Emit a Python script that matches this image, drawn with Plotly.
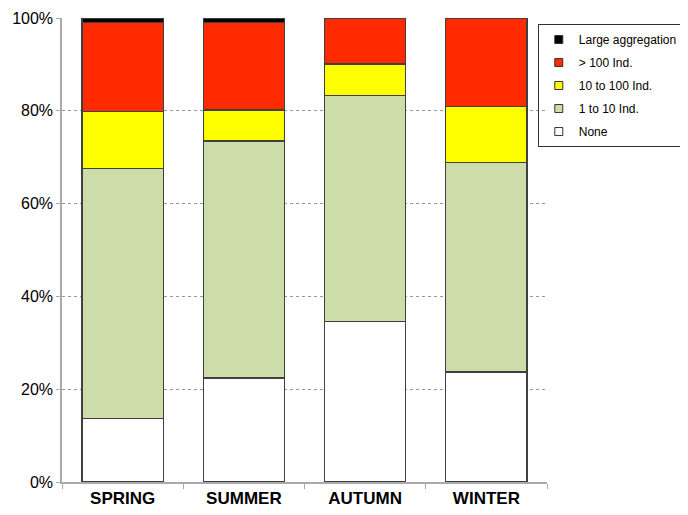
import plotly.graph_objects as go

seasons = ["SPRING", "SUMMER", "AUTUMN", "WINTER"]
none_vals = [13.7, 22.4, 34.6, 23.7]
ind_1_10 = [53.9, 51.1, 48.7, 45.2]
ind_10_100 = [12.3, 6.7, 6.8, 12.0]
ind_gt_100 = [19.2, 18.9, 9.9, 19.1]
large_agg = [0.9, 0.9, 0.0, 0.0]

series = [
    ("None", none_vals, "#FFFFFF"),
    ("1 to 10 Ind.", ind_1_10, "#CCDDAA"),
    ("10 to 100 Ind.", ind_10_100, "#FFFF00"),
    ("> 100 Ind.", ind_gt_100, "#FF2A00"),
    ("Large aggregation", large_agg, "#000000"),
]

fig = go.Figure()
for name, vals, col in series:
    fig.add_trace(go.Bar(
        x=seasons, y=vals, name=name, showlegend=False,
        marker=dict(color=col, line=dict(color="#404040", width=1.3)),
    ))
# legend entries with small square swatches (top of stack listed first)
for name, vals, col in reversed(series):
    fig.add_trace(go.Scatter(
        x=[None], y=[None], mode="markers", name=name, legendgroup=name,
        marker=dict(symbol="square", size=8, color=col,
                    line=dict(color="#333333", width=1)),
    ))

fig.update_layout(
    barmode="stack",
    bargap=0.33,
    width=680, height=507,
    margin=dict(l=54, r=141, t=10, b=33, autoexpand=False),
    paper_bgcolor="white", plot_bgcolor="white",
    font=dict(family="Liberation Sans, Arial, sans-serif", size=16, color="black"),
    legend=dict(
        x=0.981, y=0.987, xanchor="left", yanchor="top",
        traceorder="grouped",
        bgcolor="rgba(255,255,255,0)",
        bordercolor="#333333", borderwidth=1,
        font=dict(size=12),
        itemwidth=30,
        tracegroupgap=4,
    ),
    showlegend=True,
)
fig.update_yaxes(
    range=[0, 100], dtick=20, ticksuffix="%",
    showgrid=True, gridcolor="#999999", griddash="dot", gridwidth=1,
    showline=True, linecolor="#AAAAAA", linewidth=1.5,
    ticks="outside", ticklen=4, tickcolor="#AAAAAA",
    zeroline=False,
    tickfont=dict(size=16),
)
fig.update_xaxes(
    showline=True, linecolor="#AAAAAA", linewidth=1.5,
    ticks="outside", ticklen=5, tickcolor="#AAAAAA", tickson="boundaries",
    tickfont=dict(size=17),
    tickvals=seasons, ticktext=["<b>" + s + "</b>" for s in seasons],
)

fig.write_html("out.html")
